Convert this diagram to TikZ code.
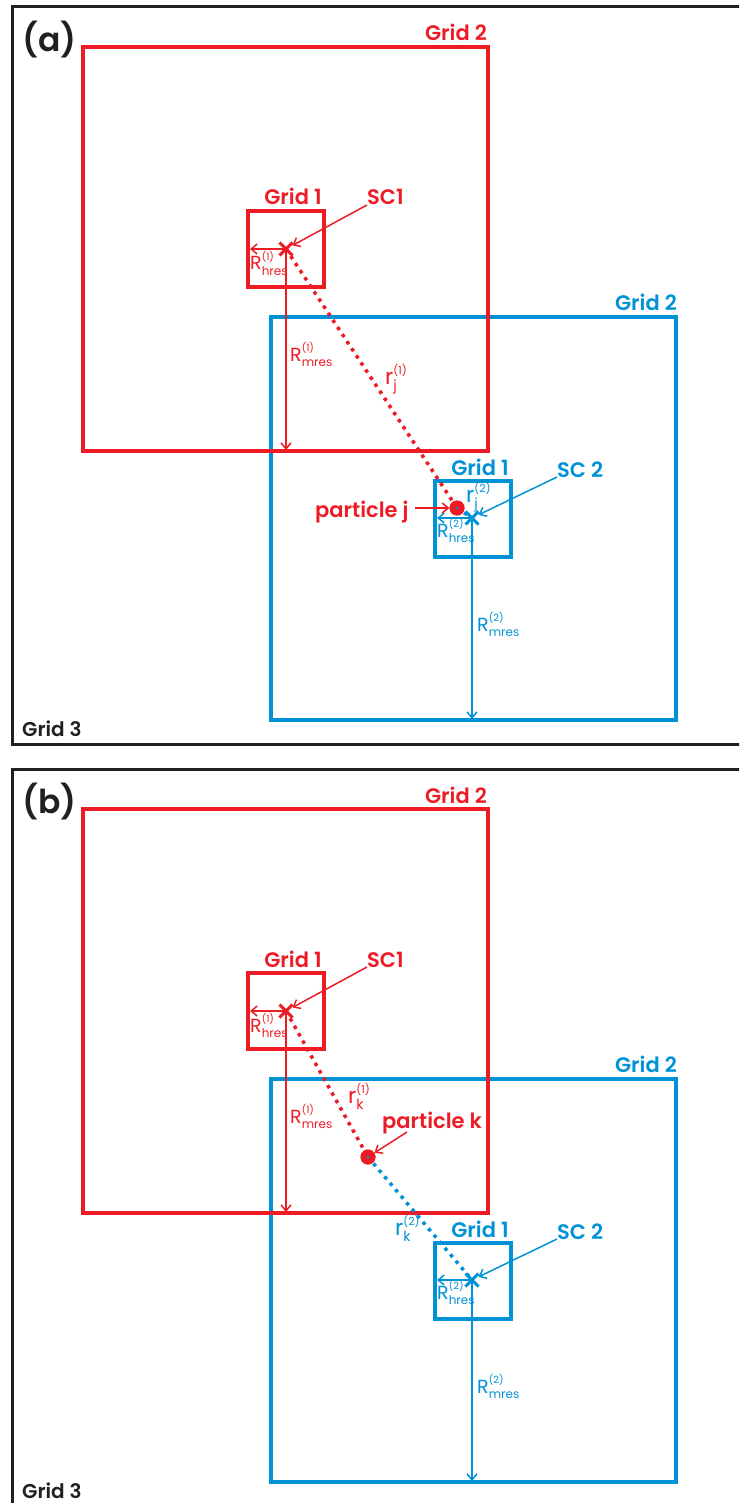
\documentclass[tikz,border=0pt]{standalone}
\usepackage{amsmath}
\usepackage{fontspec}
\setmainfont{Poppins}[BoldFont={Poppins SemiBold}]
\usetikzlibrary{arrows.meta,shapes.misc}

\definecolor{gred}{RGB}{237,28,36}
\definecolor{gblue}{RGB}{0,146,214}
\definecolor{ink}{RGB}{35,31,32}

% symbol with stacked super/subscript, e.g. R^{(1)}_{hres}
\newcommand\radsym[5]{$\text{#1}^{\raisebox{2pt}{\fontsize{#4}{#4}\selectfont #2}}_{\raisebox{-1.5pt}{\fontsize{#5}{#5}\selectfont #3}}$}

\tikzset{
  x=1pt, y=-1pt,
  domainframe/.style={draw=ink, line width=3pt},
  gridbox/.style={draw, line width=4pt},
  gridlab/.style={font=\fontsize{21}{24}\selectfont\bfseries, inner sep=0pt},
  panellab/.style={font=\fontsize{33}{36}\selectfont\bfseries, inner sep=0pt, text=ink},
  radlab/.style={font=\fontsize{19}{22}\selectfont, inner sep=0pt},
  distlab/.style={font=\fontsize{22}{24}\selectfont, inner sep=0pt},
  ptr/.style={line width=1.5pt, -{Straight Barb[length=6pt,width=10pt]}},
  dotline/.style={line width=3.5pt, dash pattern=on 3.5pt off 5pt},
  centre/.style={draw, cross out, minimum size=10pt, inner sep=0pt, line width=3pt},
  particle/.style={circle, fill=gred, minimum size=15pt, inner sep=0pt},
}

% elements shared by both panels (domains, nested grids, radii)
\newcommand\gridpanel[1]{%
  \draw[domainframe] (12,7) rectangle (800,744);
  \node[panellab, anchor=north west] (tag) at (22,21) {(#1)};
  \node[gridlab, anchor=base west, font=\fontsize{20}{22}\selectfont\bfseries, text=ink] (g3) at (22,736) {Grid 3};
  % second nest (blue)
  \draw[gridbox, gblue] (271,317) rectangle (676,720);
  \node[gridlab, gblue, anchor=base east] (bg2) at (677,310) {Grid 2};
  \draw[gridbox, gblue] (435,481) rectangle (511,557);
  \node[gridlab, gblue, anchor=base] (bg1) at (480,475) {Grid 1};
  \node[centre, gblue] (sc2) at (472,518) {};
  \node[gridlab, gblue, anchor=base west] (sc2lab) at (557,477) {SC 2};
  \draw[ptr, gblue] (sc2lab.base west) -- (sc2);
  \coordinate (h2) at (437,518);
  \coordinate (m2) at (472,719);
  \draw[ptr, gblue] (sc2.center) -- (h2);
  \draw[ptr, gblue] (sc2.center) -- (m2);
  \node[radlab, gblue, anchor=base west] (rh2) at (437,537) {\radsym{R}{(2)}{hres}{10}{12}};
  \node[radlab, gblue, anchor=base west] (rm2) at (477,631) {\radsym{R}{(2)}{mres}{10}{12}};
  % first nest (red)
  \draw[gridbox, gred] (83,47) rectangle (488,451);
  \node[gridlab, gred, anchor=base east] (rg2) at (487,41) {Grid 2};
  \draw[gridbox, gred] (248,211) rectangle (324,287);
  \node[gridlab, gred, anchor=base] (rg1) at (293,205) {Grid 1};
  \node[centre, gred] (sc1) at (286,249) {};
  \node[gridlab, gred, anchor=base west] (sc1lab) at (367,205) {SC1};
  \draw[ptr, gred] (sc1lab.base west) -- (sc1);
  \coordinate (h1) at (250,249);
  \coordinate (m1) at (286,450);
  \draw[ptr, gred] (sc1.center) -- (h1);
  \draw[ptr, gred] (sc1.center) -- (m1);
  \node[radlab, gred, anchor=base west] (rh1) at (250,270) {\radsym{R}{(1)}{hres}{10}{12}};
  \node[radlab, gred, anchor=base west] (rm1) at (290,361) {\radsym{R}{(1)}{mres}{10}{12}};
}

\begin{document}
\begin{tikzpicture}
\useasboundingbox (0,0) rectangle (739,1503);
\clip (0,0) rectangle (739,1503);

% (a): particle j lies inside both nests
\begin{scope}[name prefix=a-]
  \gridpanel{a}
  \node[particle] (pj) at (457,508) {};
  \draw[dotline, gred] (sc1.center) -- (pj.center);
  \draw[dotline, gblue] (pj.center) -- (sc2.center);
  \node[particle] at (pj) {};
  \fill[gblue] (pj.center) circle (1.5);
  \node[gridlab, gred, anchor=base west] (pjlab) at (315,517) {particle j};
  \draw[ptr, gred] ([xshift=6pt,yshift=9pt]pjlab.base east) -- (pj);
  \node[distlab, gred, anchor=base west] (rj1) at (385,384) {\radsym{r}{(1)}{j}{11}{14}};
  \node[distlab, gblue, anchor=base west] (rj2) at (466,502) {\radsym{r}{(2)}{j}{11}{14}};
\end{scope}

% (b): particle k lies between the nests
\begin{scope}[name prefix=b-, yshift=-762pt]
  \gridpanel{b}
  \node[particle] (pk) at (368,395) {};
  \draw[dotline, gred] (sc1.center) -- (pk.center);
  \draw[dotline, gblue] (pk.center) -- (sc2.center);
  \node[particle] at (pk) {};
  \fill[gblue] (pk.center) circle (1.5);
  \node[gridlab, gred, anchor=base west] (pklab) at (382,366) {particle k};
  \draw[ptr, gred] ([xshift=25pt,yshift=-4pt]pklab.base west) -- (pk);
  \node[distlab, gred, anchor=base west] (rk1) at (348,341) {\radsym{r}{(1)}{k}{11}{14}};
  \node[distlab, gblue, anchor=base west] (rk2) at (395,473) {\radsym{r}{(2)}{k}{11}{14}};
\end{scope}
\end{tikzpicture}
\end{document}
